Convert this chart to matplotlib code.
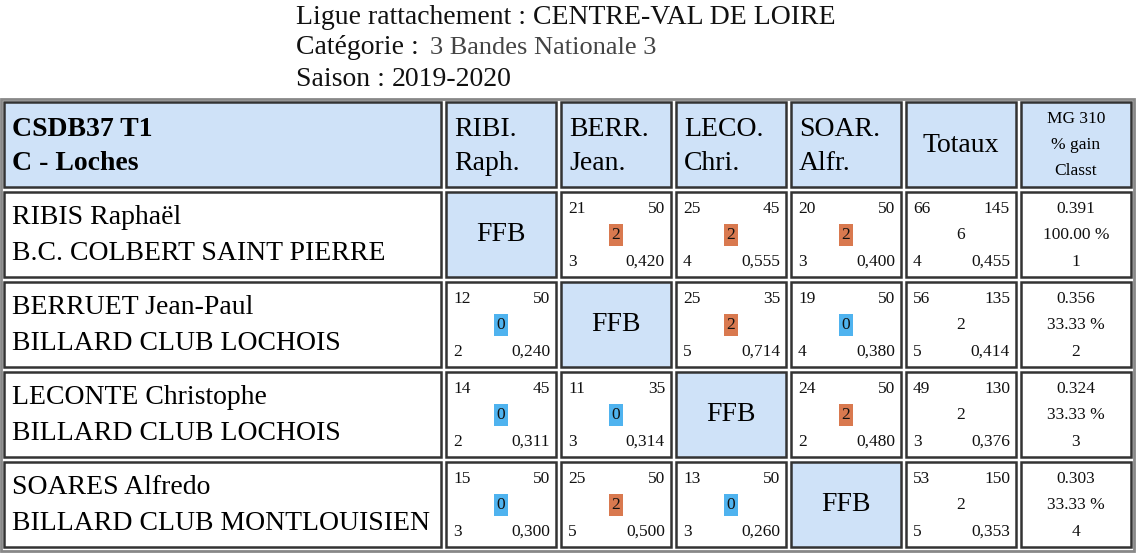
import matplotlib
matplotlib.use("Agg")
import matplotlib.pyplot as plt
from matplotlib.patches import Rectangle

title_lines = [("Ligue rattachement : ", "CENTRE-VAL DE LOIRE"),
               ("Catégorie : ", "3 Bandes Nationale 3"),
               ("Saison : ", "2019-2020")]
team = ["CSDB37 T1", "C - Loches"]
col_heads = [["RIBI.", "Raph."], ["BERR.", "Jean."], ["LECO.", "Chri."], ["SOAR.", "Alfr."]]
mg_head = ["MG 310", "% gain", "Classt"]
players = ["RIBIS Raphaël", "BERRUET Jean-Paul", "LECONTE Christophe", "SOARES Alfredo"]
clubs = ["B.C. COLBERT SAINT PIERRE", "BILLARD CLUB LOCHOIS", "BILLARD CLUB LOCHOIS", "BILLARD CLUB MONTLOUISIEN"]
# per match: (points, distance, match points, innings, average); None = FFB diagonal
matches = [
    [None, (21, 50, 2, 3, "0,420"), (25, 45, 2, 4, "0,555"), (20, 50, 2, 3, "0,400")],
    [(12, 50, 0, 2, "0,240"), None, (25, 35, 2, 5, "0,714"), (19, 50, 0, 4, "0,380")],
    [(14, 45, 0, 2, "0,311"), (11, 35, 0, 3, "0,314"), None, (24, 50, 2, 2, "0,480")],
    [(15, 50, 0, 3, "0,300"), (25, 50, 2, 5, "0,500"), (13, 50, 0, 3, "0,260"), None],
]
totals = [(66, 145, 6, 4, "0,455"), (56, 135, 2, 5, "0,414"), (49, 130, 2, 3, "0,376"), (53, 150, 2, 5, "0,353")]
mg = ["0.391", "0.356", "0.324", "0.303"]
pct = ["100.00 %", "33.33 %", "33.33 %", "33.33 %"]
rank = ["1", "2", "3", "4"]

W, H = 1136, 553
fig = plt.figure(figsize=(W/100, H/100), dpi=100)
ax = fig.add_axes([0, 0, 1, 1])
ax.set_xlim(0, W); ax.set_ylim(H, 0); ax.axis("off")
FONT = "Liberation Serif"
BIG = 20
SM = 12.5
HEADBG = "#cfe2f8"
ORANGE = "#d9794f"
BLUE = "#4fb3ef"

for i, (a, b) in enumerate(title_lines):
    y = 17 + i * 31
    t = ax.text(296, y, a, fontsize=BIG, family=FONT, va="center", ha="left", color="#111")
    fig.canvas.draw()
    bb = t.get_window_extent()
    ax.text(bb.x1 + (4 if i == 1 else 0), y, b, fontsize=BIG if i != 1 else 19, family=FONT,
            va="center", ha="left", color="#111" if i != 1 else "#444")

ax.add_patch(Rectangle((1, 99), W - 3, H - 101, fill=False, ec="#888", lw=2))

cols = [(4, 441), (446, 556), (561, 671), (676, 786), (791, 901), (906, 1016), (1021, 1131)]
rows = [(102, 187), (192, 277), (282, 367), (372, 457), (462, 547)]

def cell(c, r, bg):
    x0, x1 = cols[c]; y0, y1 = rows[r]
    ax.add_patch(Rectangle((x0, y0), x1 - x0, y1 - y0, fc=bg, ec="#333", lw=1.8))

def small(x, y, s, ha="left"):
    ax.text(x, y, str(s), fontsize=SM, family=FONT, ha=ha, va="center", color="#111")

def match_cell(c, r, m, badge=True):
    x0, x1 = cols[c]; y0, y1 = rows[r]
    small(x0 + 7, y0 + 17, m[0])
    small(x1 - 6, y0 + 17, m[1], ha="right")
    small(x0 + 7, y1 - 15, m[3])
    small(x1 - 6, y1 - 15, m[4], ha="right")
    cx = (x0 + x1) / 2
    if badge:
        col = ORANGE if m[2] > 0 else BLUE
        ax.add_patch(Rectangle((cx - 7, y0 + 32), 14, 22, fc=col, ec="none"))
    small(cx, y0 + 43, m[2], ha="center")

for c in range(7):
    cell(c, 0, HEADBG)
ax.text(12, 129, team[0], fontsize=BIG, family=FONT, weight="bold", va="center")
ax.text(12, 164, team[1], fontsize=BIG, family=FONT, weight="bold", va="center")
for j, hd in enumerate(col_heads):
    x0 = cols[j + 1][0]
    ax.text(x0 + 8, 129, hd[0], fontsize=BIG, family=FONT, va="center")
    ax.text(x0 + 8, 164, hd[1], fontsize=BIG, family=FONT, va="center")
ax.text(sum(cols[5]) / 2, 145, "Totaux", fontsize=BIG, family=FONT, va="center", ha="center")
for k, s in enumerate(mg_head):
    ax.text(sum(cols[6]) / 2, 119 + k * 26, s, fontsize=SM, family=FONT, va="center", ha="center")

for i in range(4):
    r = i + 1
    y0, y1 = rows[r]
    cell(0, r, "white")
    ax.text(12, y0 + 25, players[i], fontsize=BIG, family=FONT, va="center")
    ax.text(12, y0 + 62, clubs[i], fontsize=BIG, family=FONT, va="center")
    for j in range(4):
        m = matches[i][j]
        if m is None:
            cell(j + 1, r, HEADBG)
            ax.text(sum(cols[j + 1]) / 2, (y0 + y1) / 2, "FFB", fontsize=BIG, family=FONT, va="center", ha="center")
        else:
            cell(j + 1, r, "white")
            match_cell(j + 1, r, m)
    cell(5, r, "white")
    match_cell(5, r, totals[i], badge=False)
    cell(6, r, "white")
    cx = sum(cols[6]) / 2
    small(cx, y0 + 17, mg[i], ha="center")
    small(cx, y0 + 43, pct[i], ha="center")
    small(cx, y1 - 15, rank[i], ha="center")

fig.savefig("out.png", dpi=100)
